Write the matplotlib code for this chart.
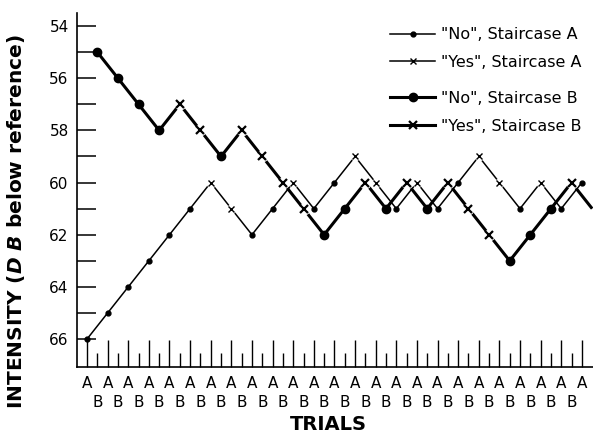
import numpy as np
import matplotlib
matplotlib.use('Agg')
import matplotlib.pyplot as plt
from matplotlib.lines import Line2D
from matplotlib.legend_handler import HandlerLine2D

# intensity (dB below reference) on each trial
stair_a_level = [66, 65, 64, 63, 62, 61, 60, 61, 62, 61, 60, 61, 60,
                 59, 60, 61, 60, 61, 60, 59, 60, 61, 60, 61, 60]
stair_a_resp = ['N', 'N', 'N', 'N', 'N', 'N', 'Y', 'Y', 'N', 'N', 'Y', 'N', 'N',
                'Y', 'Y', 'N', 'Y', 'N', 'N', 'Y', 'Y', 'N', 'Y', 'N', 'N']
stair_b_level = [55, 56, 57, 58, 57, 58, 59, 58, 59, 60, 61, 62, 61,
                 60, 61, 60, 61, 60, 61, 62, 63, 62, 61, 60, 61]
stair_b_resp = ['N', 'N', 'N', 'N', 'Y', 'Y', 'N', 'Y', 'Y', 'Y', 'Y', 'N', 'N',
                'Y', 'N', 'Y', 'N', 'Y', 'Y', 'Y', 'N', 'N', 'N', 'Y', '-']
trial_a_labels = ['A'] * 25
trial_b_labels = ['B'] * 24
y_major = [54, 56, 58, 60, 62, 64, 66]
y_minor = [55, 57, 59, 61, 63, 65]

plt.rcParams['mathtext.fontset'] = 'custom'
plt.rcParams['mathtext.it'] = 'DejaVu Sans:italic:bold'


class HandlerLeftMarker(HandlerLine2D):
    # marker sits at the left end of the legend line, like the original
    def get_xdata(self, legend, xdescent, ydescent, width, height, fontsize):
        return [-xdescent, -xdescent + width], [-xdescent]


def draw_staircase(ax, trials, levels, resp, lw, dot_ms, x_ms, x_mew, gap_ms, z):
    trials = np.asarray(trials)
    levels = np.asarray(levels)
    resp = np.asarray(resp)
    no = resp == 'N'
    yes = resp == 'Y'
    ax.plot(trials, levels, color='k', lw=lw, zorder=z, solid_capstyle='butt')
    ax.plot(trials[no], levels[no], 'o', ms=dot_ms, color='k', zorder=z + 1)
    ax.plot(trials[yes], levels[yes], 'o', ms=gap_ms, color='white', mec='none', zorder=z + 1)
    ax.plot(trials[yes], levels[yes], 'x', ms=x_ms, mew=x_mew, color='k', zorder=z + 2)


fig = plt.figure(figsize=(5.93, 4.37), dpi=100)
ax = fig.add_axes([77 / 593, 70 / 437, 516 / 593, 354 / 437])

a_trials = np.arange(len(stair_a_level)) * 2
b_trials = np.arange(len(stair_b_level)) * 2 + 1

draw_staircase(ax, a_trials, stair_a_level, stair_a_resp,
               lw=1.1, dot_ms=3.5, x_ms=4.5, x_mew=1.0, gap_ms=7, z=2)
draw_staircase(ax, b_trials, stair_b_level, stair_b_resp,
               lw=2.2, dot_ms=6, x_ms=6, x_mew=1.6, gap_ms=8.5, z=5)

ax.set_xlim(-0.97, 49.08)
ax.set_ylim(67.07, 53.5)

ax.set_yticks(y_major)
ax.set_yticks(y_minor, minor=True)
ax.tick_params(axis='y', which='both', direction='in', length=14, width=1.1,
               pad=6, labelsize=11)

a_ticks = np.arange(0, 2 * len(trial_a_labels), 2)
b_ticks = np.arange(1, 2 * len(trial_b_labels), 2)
ax.set_xticks(a_ticks)
ax.set_xticklabels(trial_a_labels)
ax.set_xticks(b_ticks, minor=True)
ax.set_xticklabels(trial_b_labels, minor=True)
ax.tick_params(axis='x', which='major', direction='in', length=19.5, width=1.0,
               pad=6.5, labelsize=11)
ax.tick_params(axis='x', which='minor', direction='in', length=10, width=1.0,
               pad=20, labelsize=11)

for side in ['top', 'right']:
    ax.spines[side].set_visible(False)
for side in ['left', 'bottom']:
    ax.spines[side].set_linewidth(1.2)

ax.set_ylabel(r'INTENSITY ($\mathit{D\ B}$ below reference)',
              fontsize=14.5, fontweight='bold')
ax.yaxis.set_label_coords(-0.097, 0.41)
fig.text(328 / 593, 1 - 425 / 437, 'TRIALS', ha='center', va='center',
         fontsize=14, fontweight='bold')

# legend, in two pairs like the original
hmap = {Line2D: HandlerLeftMarker()}
handles_a = [Line2D([], [], color='k', lw=1.1, marker='o', ms=3.5),
             Line2D([], [], color='k', lw=1.1, marker='x', ms=4.5, mew=1.0)]
handles_b = [Line2D([], [], color='k', lw=2.2, marker='o', ms=6),
             Line2D([], [], color='k', lw=2.2, marker='x', ms=6, mew=1.6)]
leg_kw = dict(loc='upper left', frameon=False, borderpad=0, borderaxespad=0,
              handlelength=2.8, handletextpad=0.4, labelspacing=0.8,
              fontsize=11.5, handler_map=hmap)
leg_a = ax.legend(handles_a, ['"No", Staircase A', '"Yes", Staircase A'],
                  bbox_to_anchor=(0.607, 0.96), **leg_kw)
ax.add_artist(leg_a)
ax.legend(handles_b, ['"No", Staircase B', '"Yes", Staircase B'],
          bbox_to_anchor=(0.607, 0.78), **leg_kw)

fig.savefig('out.png', dpi=100)
